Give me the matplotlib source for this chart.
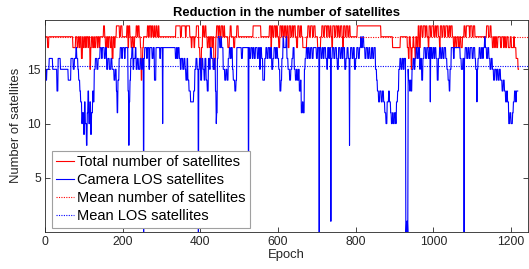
import numpy as np
import matplotlib
matplotlib.use("Agg")
import matplotlib.pyplot as plt

# run-length encoded series: (value, number of epochs)
los_runs = [
    (15, 2), (14, 2), (15, 6), (16, 9), (15, 11), (13, 3), (16, 6), (15, 20), (14, 7), (16, 6),
    (15, 3), (16, 4), (17, 2), (16, 3), (15, 2), (14, 3), (13, 2),
    (12, 3), (10, 2), (11, 3), (9, 2), (12, 2), (10, 3), (8, 2), (11, 2), (13, 2), (10, 3),
    (12, 2), (9, 2), (11, 3), (13, 2),
    (12, 2), (15, 3), (16, 4), (15, 3), (16, 5),
    (17, 4), (16, 2), (17, 5), (16, 3), (17, 3), (15, 3), (16, 4), (15, 4), (16, 3), (15, 5),
    (14, 3), (15, 3), (13, 2), (11, 2), (14, 3), (16, 3), (17, 4), (16, 2), (17, 5), (16, 2),
    (17, 7), (13, 2), (8, 1), (12, 2), (14, 2), (16, 3), (17, 3), (15, 2), (16, 4), (17, 2),
    (15, 3), (16, 3), (15, 4), (16, 3), (15, 3), (16, 3), (0, 1), (16, 2),
    (17, 5), (16, 2), (17, 4), (15, 2), (17, 6), (16, 3), (17, 3), (14, 4), (17, 10), (16, 2),
    (17, 5), (10, 1), (17, 3),
    (17, 29), (16, 3), (17, 2), (16, 2), (17, 3), (16, 3), (15, 2), (16, 4), (15, 3), (16, 3),
    (15, 2), (14, 3), (16, 2),
    (14, 3), (13, 4), (12, 8), (13, 3), (15, 3), (16, 3), (15, 3), (0, 1), (15, 2), (16, 3),
    (14, 3), (16, 3), (15, 3), (14, 2), (16, 3),
    (14, 3), (13, 3), (16, 3), (15, 2), (17, 3), (16, 4), (15, 3), (16, 3), (13, 2), (10, 1),
    (11, 2), (16, 2), (18, 4), (17, 3), (18, 2), (17, 4),
    (15, 4), (14, 3), (15, 3), (14, 3), (16, 3), (17, 3), (16, 2), (17, 3), (15, 2), (14, 4),
    (13, 3), (14, 2), (17, 12), (16, 3), (17, 15), (1, 1), (17, 2),
    (16, 3), (17, 4), (16, 2), (17, 3), (16, 3), (17, 5), (16, 3), (17, 3), (15, 2), (17, 3),
    (16, 3), (14, 5), (16, 3), (17, 3), (16, 3), (17, 4), (16, 2), (17, 3), (15, 3), (16, 3),
    (17, 4), (16, 2), (17, 3), (16, 3), (15, 3), (13, 3), (14, 2), (16, 3), (18, 2), (17, 3),
    (17, 3), (18, 2), (16, 3), (15, 4), (14, 3), (15, 3), (16, 3), (17, 3), (15, 3), (14, 3),
    (15, 2), (14, 3), (15, 2), (13, 3), (14, 2), (11, 3), (12, 2), (11, 3), (15, 2), (16, 3),
    (17, 3), (16, 2), (17, 3), (16, 3), (17, 4), (16, 3),
    (17, 8), (16, 3), (17, 4), (0, 1), (17, 4), (16, 3), (17, 3), (16, 2), (17, 4), (16, 3),
    (15, 2), (17, 3), (16, 2), (17, 3), (1, 1), (16, 3), (17, 4),
    (16, 3), (17, 4), (16, 2), (15, 3), (17, 4), (16, 3), (17, 3), (16, 2), (17, 4), (15, 3),
    (16, 3), (17, 3), (16, 3), (8, 1), (16, 2), (17, 4), (16, 3), (17, 3), (15, 3), (16, 3),
    (17, 4), (16, 3), (17, 3), (18, 2), (17, 3),
    (18, 3), (17, 3), (16, 3), (17, 4), (16, 3), (17, 3), (16, 4), (17, 3), (16, 3), (17, 4),
    (15, 3), (14, 2),
    (13, 3), (12, 3), (13, 4), (12, 3), (13, 3), (12, 3), (11, 3), (10, 3), (12, 4), (13, 2),
    (12, 3), (11, 2), (10, 3), (11, 2), (10, 3), (11, 3), (10, 2), (12, 3), (13, 3), (15, 3),
    (16, 3), (15, 3), (16, 3), (15, 2),
    (16, 4), (0, 2), (1, 3), (0, 1), (15, 1), (14, 3), (13, 2), (14, 2), (13, 2),
    (15, 3), (16, 3), (15, 2), (16, 3), (17, 3), (16, 3), (17, 3), (15, 2), (16, 3), (14, 3),
    (16, 3), (17, 4), (16, 3), (17, 4), (16, 3), (17, 2), (12, 1), (17, 3), (16, 3), (17, 3),
    (16, 2), (17, 3), (16, 3), (14, 3), (16, 3), (17, 3), (16, 3),
    (17, 3), (16, 3), (17, 4), (16, 3), (15, 3), (14, 3), (13, 2), (15, 3), (17, 6), (16, 2),
    (17, 15), (16, 3), (15, 4), (16, 3), (0, 1), (16, 2),
    (17, 4), (16, 3), (17, 3), (16, 3), (17, 5), (16, 3), (17, 4), (16, 2), (15, 3), (12, 1),
    (15, 2), (16, 3), (17, 3), (16, 3), (17, 3), (16, 2), (17, 3), (18, 2), (17, 3), (16, 3),
    (17, 3), (16, 3), (15, 3), (16, 3), (15, 3), (14, 3), (15, 4), (14, 2), (15, 3), (14, 3),
    (15, 3), (14, 4), (13, 3), (14, 3), (13, 3), (12, 3), (13, 2), (12, 3), (10, 3), (11, 3),
    (10, 4), (11, 2), (12, 3), (13, 3), (12, 2), (13, 4),
]

total_runs = [
    (18, 6), (17, 3), (18, 62), (17, 7), (18, 4), (17, 3), (18, 3),
    (17, 2), (18, 3), (16, 3), (18, 2), (17, 3), (18, 3), (17, 2), (18, 4), (17, 2), (18, 3),
    (15, 2), (17, 2), (18, 3), (17, 3), (18, 2), (17, 3), (18, 4), (17, 2), (18, 3), (17, 2),
    (18, 3), (18, 6), (19, 3), (18, 2),
    (17, 3), (18, 3), (17, 2), (18, 4), (17, 3), (18, 2), (16, 3), (18, 3), (17, 2), (18, 3),
    (19, 8), (18, 3), (19, 4), (18, 4),
    (18, 8), (19, 3), (17, 2), (19, 3), (18, 3), (17, 3), (18, 3), (17, 3), (18, 4), (19, 3),
    (18, 2), (19, 3), (18, 3), (17, 2), (14, 2), (16, 2), (17, 2),
    (18, 10), (19, 3), (18, 2), (19, 4), (18, 2), (19, 3), (18, 3), (19, 2), (18, 3), (19, 3),
    (18, 3), (19, 2), (18, 8),
    (18, 35),
    (19, 12), (18, 3), (19, 10), (18, 2), (19, 9),
    (18, 4), (17, 2), (18, 5), (17, 2), (18, 4), (19, 6), (17, 3), (16, 2), (15, 2), (17, 3),
    (19, 3), (18, 3), (19, 3),
    (18, 3), (17, 3), (18, 3), (17, 2), (18, 4), (17, 2), (18, 3), (15, 3), (16, 2), (18, 2),
    (19, 4), (18, 2), (19, 3),
    (18, 3), (19, 4), (18, 3), (19, 2), (18, 8), (17, 4), (18, 2), (19, 3), (18, 6), (17, 3),
    (18, 5), (19, 4),
    (18, 38), (19, 20), (18, 22),
    (19, 4), (17, 2), (19, 3), (18, 3), (19, 4), (18, 2), (19, 3), (18, 3), (17, 3), (19, 4),
    (18, 2), (19, 3), (18, 3), (19, 3),
    (18, 3), (19, 3), (17, 3), (19, 4), (18, 3), (19, 3), (18, 2), (19, 4), (18, 3), (17, 3),
    (19, 4), (18, 3), (19, 3), (18, 3), (17, 10), (18, 3),
    (19, 4), (18, 3), (19, 5), (18, 3), (19, 4), (18, 6), (17, 8), (18, 3),
    (19, 4), (18, 3), (19, 5), (18, 2), (19, 4), (18, 3), (19, 3), (18, 2), (17, 2), (19, 5),
    (18, 3), (19, 4), (18, 2), (19, 3), (18, 3), (19, 4), (18, 2), (17, 2), (19, 4), (18, 3),
    (19, 4), (18, 3), (19, 3), (18, 3),
    (18, 15), (19, 61), (18, 30), (17, 20), (18, 18),
    (17, 3), (16, 2), (18, 3), (17, 2), (15, 2), (17, 3), (18, 2), (17, 3), (16, 2), (18, 3),
    (17, 3), (19, 3), (17, 3),
    (19, 4), (18, 3), (19, 5), (18, 2), (19, 3), (18, 3), (17, 2), (19, 4), (18, 3), (19, 5),
    (18, 3), (19, 3), (18, 2), (19, 4), (18, 3), (17, 2), (19, 4), (18, 3), (19, 4), (18, 3),
    (19, 5), (18, 3), (19, 3), (18, 2), (19, 4), (18, 3), (17, 3),
    (18, 3), (17, 3), (18, 4), (17, 3), (18, 3), (17, 4), (18, 4),
    (19, 3), (18, 3), (19, 8), (18, 2), (19, 5), (18, 3), (19, 4),
    (18, 30), (19, 5), (18, 4), (19, 3),
    (18, 3), (17, 3), (18, 3), (17, 2), (18, 3), (17, 3), (18, 3),
    (18, 4), (17, 3), (18, 5), (17, 2), (18, 3), (17, 3), (18, 4), (17, 5), (18, 3), (17, 6),
    (18, 2), (17, 4), (16, 5), (15, 2),
]

total_mean = 17.97
los_mean = 15.3
n_epochs = 1244

legend_labels = ["Total number of satellites", "Camera LOS satellites",
                 "Mean number of satellites", "Mean LOS satellites"]


def expand(runs):
    vals = [v for v, n in runs]
    lens = [n for v, n in runs]
    return np.repeat(vals, lens)


total = expand(total_runs)
los = expand(los_runs)

plt.rcParams['font.family'] = ['Liberation Sans', 'DejaVu Sans']
dark = '#262626'

fig = plt.figure(figsize=(5.29, 2.69), dpi=100)
ax = fig.add_axes([0.085, 0.139, 0.9135, 0.787])

ax.plot(np.arange(1, len(total) + 1), total, color='red', lw=0.8, label=legend_labels[0])
ax.plot(np.arange(1, len(los) + 1), los, color='blue', lw=0.8, label=legend_labels[1])
ax.axhline(total_mean, color='red', lw=0.8, ls=(0, (1, 1.2)), label=legend_labels[2])
ax.axhline(los_mean, color='blue', lw=0.8, ls=(0, (1, 1.2)), label=legend_labels[3])

ax.set_xlim(0, n_epochs)
ax.set_ylim(0.05, 19.55)
ax.set_xticks(range(0, 1201, 200))
ax.set_yticks([5, 10, 15])

ax.tick_params(direction='in', length=3.5, width=0.6, top=True, right=True,
               labelsize=8.7, colors=dark, labelcolor=dark, pad=3)
for s in ax.spines.values():
    s.set_color(dark)
    s.set_linewidth(0.6)

ax.set_title("Reduction in the number of satellites", fontsize=9.4,
             fontweight='bold', pad=3, color='black')
ax.set_xlabel("Epoch", fontsize=9.4, color=dark, labelpad=1)
ax.set_ylabel("Number of satellites", fontsize=9.4, color=dark, labelpad=4)

leg = ax.legend(loc='lower left', bbox_to_anchor=(0.014, 0.019), borderaxespad=0,
                fontsize=10.5, handlelength=1.25, handletextpad=0.2,
                labelspacing=0.28, borderpad=0.3, fancybox=False, framealpha=1)
leg.get_frame().set_edgecolor('#a0a0a0')
leg.get_frame().set_linewidth(0.8)
for t in leg.get_texts():
    t.set_color('black')

fig.savefig("out.png", dpi=100)
